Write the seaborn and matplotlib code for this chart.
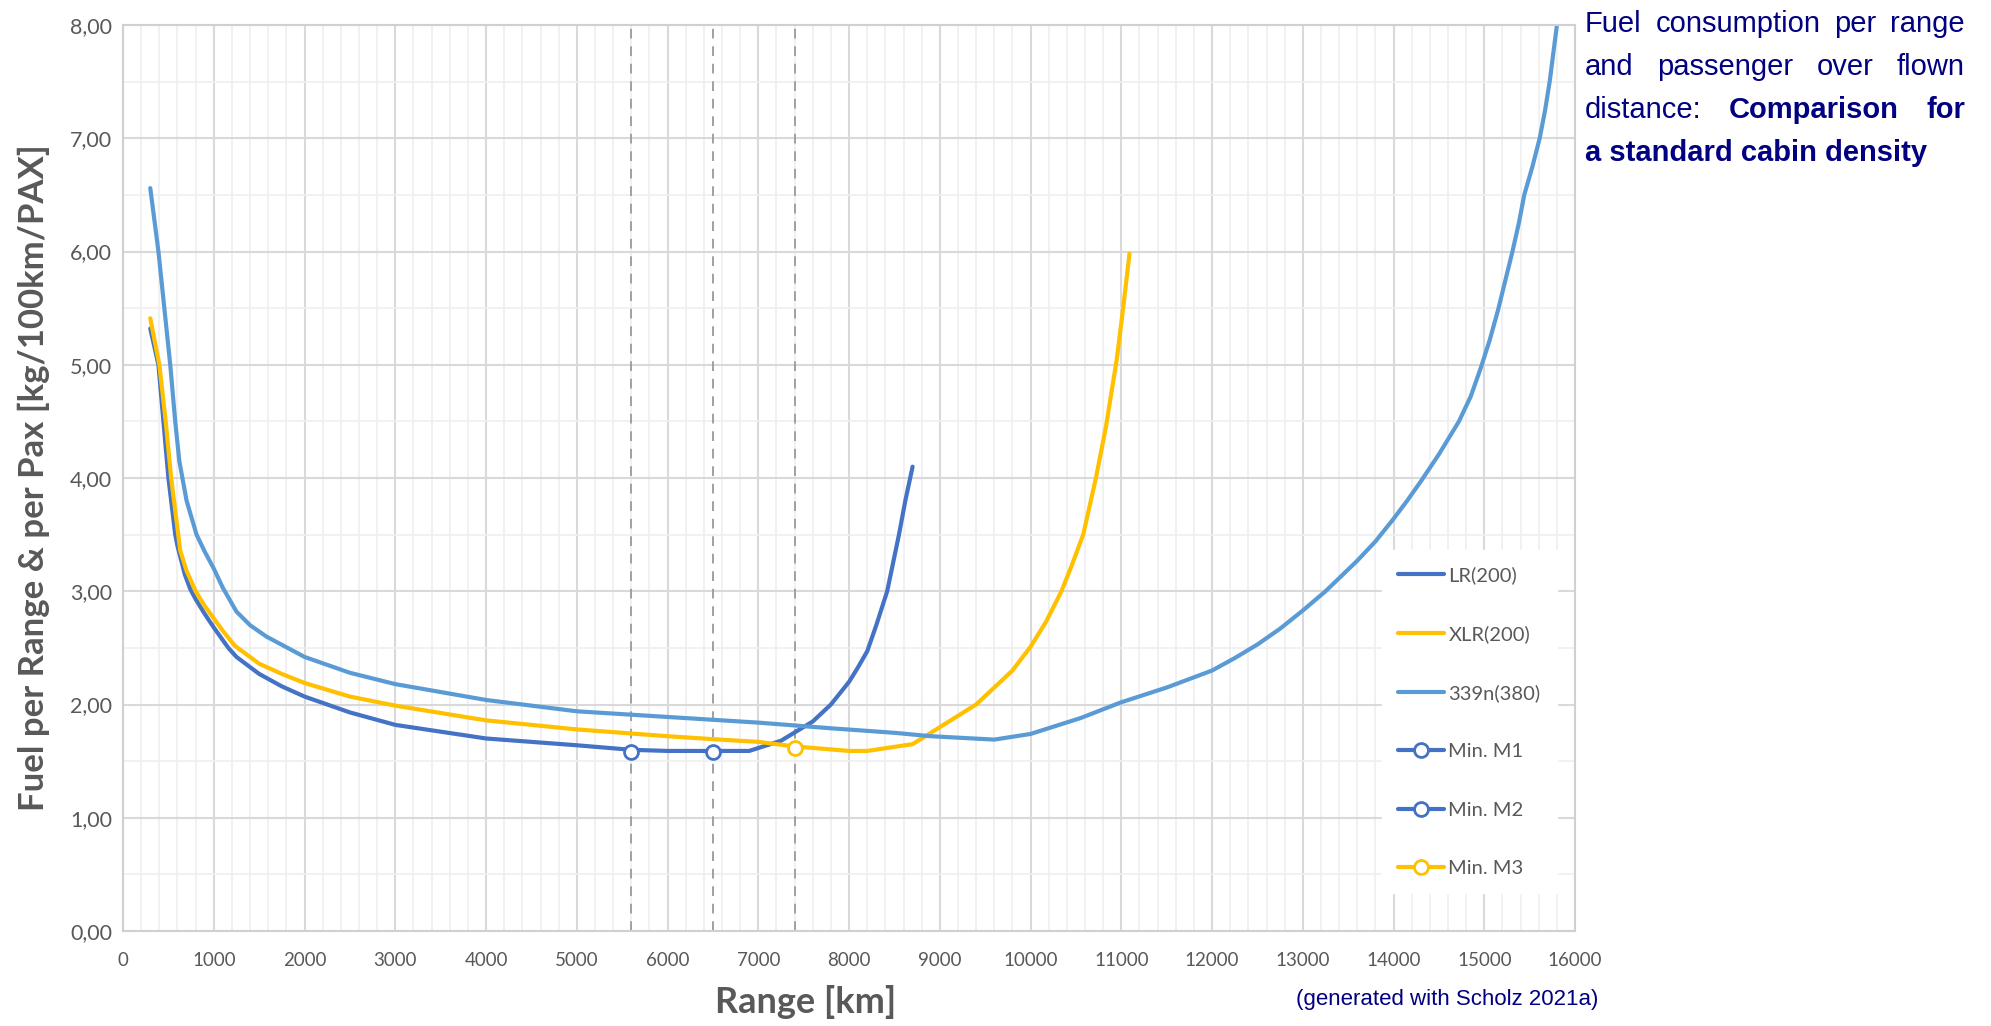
import matplotlib
matplotlib.use("Agg")
import matplotlib.pyplot as plt
from matplotlib.ticker import MultipleLocator, FuncFormatter
import seaborn as sns

# values (range in km, fuel in kg/100km/PAX)
lr_range = [300, 390, 445, 500, 575, 600, 680, 740, 800, 900, 1000, 1160, 1250, 1500, 1750, 2000, 2500,
            3000, 4000, 5000, 5600, 6000, 6500, 6900, 7250, 7600, 7800, 8000, 8100, 8200, 8300, 8420,
            8550, 8620, 8700]
lr_fuel = [5.32, 5.0, 4.5, 4.0, 3.5, 3.4, 3.15, 3.02, 2.93, 2.8, 2.68, 2.5, 2.42, 2.27, 2.16, 2.07, 1.93,
           1.82, 1.70, 1.64, 1.60, 1.59, 1.59, 1.59, 1.68, 1.85, 2.0, 2.2, 2.33, 2.47, 2.7, 3.0,
           3.5, 3.8, 4.1]

xlr_range = [300, 400, 470, 530, 630, 700, 800, 900, 1000, 1100, 1230, 1500, 1750, 2000, 2500, 3000, 4000,
             5000, 6000, 6580, 7000, 7400, 8000, 8200, 8450, 8700, 9000, 9200, 9400, 9600, 9800, 10000,
             10170, 10340, 10450, 10580, 10650, 10720, 10830, 10890, 10950, 11020, 11090]
xlr_fuel = [5.41, 5.0, 4.5, 4.0, 3.36, 3.18, 3.0, 2.87, 2.76, 2.65, 2.52, 2.36, 2.27, 2.19, 2.07, 1.99, 1.86,
            1.78, 1.72, 1.69, 1.67, 1.63, 1.59, 1.59, 1.62, 1.65, 1.80, 1.9, 2.0, 2.15, 2.3, 2.51,
            2.73, 3.0, 3.22, 3.5, 3.75, 4.0, 4.45, 4.75, 5.05, 5.5, 5.98]

a339_range = [300, 390, 455, 520, 575, 620, 700, 810, 900, 1000, 1100, 1250, 1400, 1580, 2000, 2500, 3000,
              4000, 5000, 6000, 7000, 7800, 8500, 8900, 9600, 10000, 10550, 11000, 11500, 12000, 12250,
              12500, 12750, 13000, 13250, 13600, 13800, 14000, 14150, 14300, 14500, 14720, 14850, 14960,
              15060, 15150, 15230, 15310, 15380, 15440, 15530, 15610, 15670, 15720, 15760, 15800]
a339_fuel = [6.56, 6.0, 5.5, 5.0, 4.5, 4.15, 3.8, 3.5, 3.35, 3.2, 3.03, 2.82, 2.7, 2.6, 2.42, 2.28, 2.18,
             2.04, 1.94, 1.89, 1.84, 1.79, 1.75, 1.72, 1.69, 1.74, 1.88, 2.02, 2.15, 2.30, 2.41,
             2.53, 2.67, 2.83, 3.0, 3.27, 3.44, 3.64, 3.8, 3.97, 4.21, 4.5, 4.72, 4.97,
             5.22, 5.48, 5.74, 6.0, 6.25, 6.5, 6.75, 7.0, 7.25, 7.5, 7.75, 8.0]

min_names = ["Min. M1", "Min. M2", "Min. M3"]
min_range = [5600, 6500, 7400]
min_fuel = [1.58, 1.58, 1.62]

c_lr, c_xlr, c_339 = "#4472C4", "#FFC000", "#5B9BD5"
min_colors = [c_lr, c_lr, c_xlr]
navy = "#000080"
gray_txt = "#595959"

sns.set_style("white")
plt.rcParams["font.family"] = ["Lato", "DejaVu Sans"]

fig = plt.figure(figsize=(19.91, 10.26), dpi=100)
ax = fig.add_axes([0.0618, 0.0926, 0.7293, 0.8830])

sns.lineplot(x=lr_range, y=lr_fuel, ax=ax, color=c_lr, linewidth=3, label="LR(200)", sort=False)
sns.lineplot(x=xlr_range, y=xlr_fuel, ax=ax, color=c_xlr, linewidth=3, label="XLR(200)", sort=False)
sns.lineplot(x=a339_range, y=a339_fuel, ax=ax, color=c_339, linewidth=3, label="339n(380)", sort=False)

for name, xr, yf, col in zip(min_names, min_range, min_fuel, min_colors):
    ax.axvline(xr, color="#a0a0a0", linestyle=(0, (5, 4)), linewidth=1.4, zorder=1)
    sns.lineplot(x=[xr], y=[yf], ax=ax, color=col, linewidth=3, marker="o", markersize=10,
                 markerfacecolor="white", markeredgecolor=col, markeredgewidth=2, label=name)

ax.set_xlim(0, 16000)
ax.set_ylim(0, 8)
ax.xaxis.set_major_locator(MultipleLocator(1000))
ax.xaxis.set_minor_locator(MultipleLocator(200))
ax.yaxis.set_major_locator(MultipleLocator(1))
ax.yaxis.set_minor_locator(MultipleLocator(0.5))
ax.yaxis.set_major_formatter(FuncFormatter(lambda v, p: f"{v:.2f}".replace(".", ",")))
ax.grid(which="major", color="#d9d9d9", linewidth=1.5)
ax.grid(which="minor", color="#efefef", linewidth=1.2)
ax.set_axisbelow(True)
ax.tick_params(which="both", length=0)
ax.tick_params(axis="y", labelsize=15.5, labelcolor=gray_txt, pad=8)
ax.tick_params(axis="x", labelsize=13.5, labelcolor=gray_txt, pad=15)
for side, sp in ax.spines.items():
    sp.set_color("#d0d0d0")
    sp.set_linewidth(1.5)

ax.set_xlabel("Range [km]", fontsize=26, fontweight="bold", color=gray_txt)
ax.xaxis.set_label_coords(0.47, -0.06)
ax.set_ylabel("Fuel per Range & per Pax [kg/100km/PAX]", fontsize=25, fontweight="bold", color=gray_txt)
ax.yaxis.set_label_coords(-0.05, 0.5)

leg = ax.legend(loc="upper left", bbox_to_anchor=(0.86, 0.432), fontsize=14.5, labelspacing=2.05,
                handlelength=2.3, handletextpad=0.2, borderpad=0.8, frameon=True, fancybox=False,
                framealpha=1, edgecolor="white", facecolor="white")
for t in leg.get_texts():
    t.set_color(gray_txt)

# justified description block at the right
W, H = fig.bbox.width, fig.bbox.height
renderer = fig.canvas.get_renderer()
lines = [
    [("Fuel", "normal"), ("consumption", "normal"), ("per", "normal"), ("range", "normal")],
    [("and", "normal"), ("passenger", "normal"), ("over", "normal"), ("flown", "normal")],
    [("distance:", "normal"), ("Comparison", "bold"), ("for", "bold")],
    [("a standard cabin density", "bold")],
]
x_left, x_right = 1585, 1965
baseline = 32
for i, parts in enumerate(lines):
    texts = [fig.text(0, 1 - baseline / H, w, fontsize=21, fontweight=wt, color=navy,
                      family="Liberation Sans", va="baseline") for w, wt in parts]
    widths = [t.get_window_extent(renderer).width for t in texts]
    gap = (x_right - x_left - sum(widths)) / (len(texts) - 1) if len(texts) > 1 else 0
    x = x_left
    for t, w in zip(texts, widths):
        t.set_x(x / W)
        x += w + gap
    baseline += 43

fig.text(1447 / W, 1 - 1000 / H, "(generated with Scholz 2021a)", fontsize=16, color=navy,
         family="Liberation Sans", ha="center", va="center")

fig.savefig("out.png", dpi=100)
